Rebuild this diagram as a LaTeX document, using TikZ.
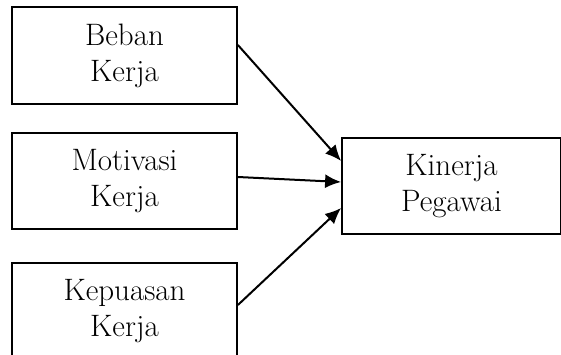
\documentclass[tikz,border=0pt]{standalone}
\usetikzlibrary{arrows.meta}
\begin{document}
\begin{tikzpicture}[x=1pt,y=-1pt,
  box/.style={draw,line width=1.8pt,rectangle,minimum width=225pt,minimum height=97pt,
    inner sep=0pt,align=center,font=\fontsize{31}{36}\selectfont},
  conn/.style={line width=2pt,-{Latex[length=16pt,width=14pt]}}]
\useasboundingbox (0,0) rectangle (561,355);
\clip (0,0) rectangle (561,355);
\node[box] (b1) at (124.5,55.5) {Beban\\Kerja};
\node[box,minimum height=96pt] (b2) at (124.5,181) {Motivasi\\Kerja};
\node[box] (b3) at (124.5,311.5) {Kepuasan\\Kerja};
\node[box,minimum width=219pt,minimum height=96pt] (b4) at (451.5,186) {Kinerja\\Pegawai};
\draw[conn] ([yshift=10.5pt]b1.east) -- ([yshift=25pt]b4.west);
\draw[conn] ([yshift=4pt]b2.east) -- ([yshift=4pt]b4.west);
\draw[conn] ([yshift=6.5pt]b3.east) -- ([yshift=-22pt]b4.west);
\end{tikzpicture}
\end{document}
